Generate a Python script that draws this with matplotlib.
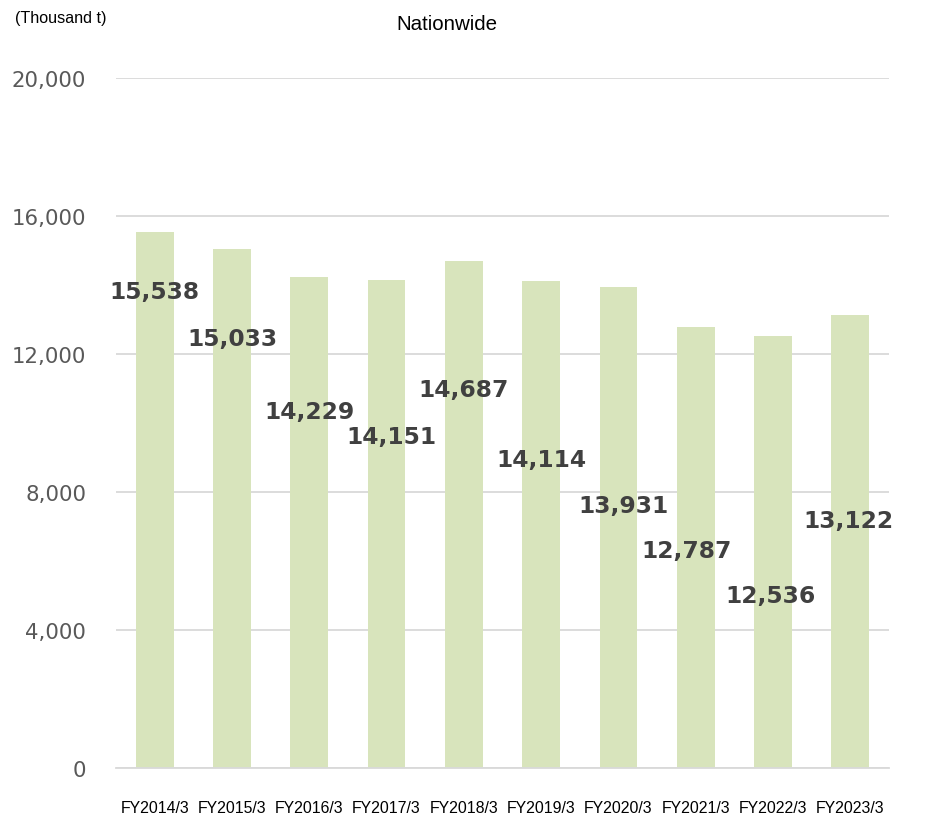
import matplotlib
matplotlib.use('Agg')
from matplotlib import pyplot as plt
from matplotlib.ticker import FuncFormatter

years = ['FY2014/3', 'FY2015/3', 'FY2016/3', 'FY2017/3', 'FY2018/3',
         'FY2019/3', 'FY2020/3', 'FY2021/3', 'FY2022/3', 'FY2023/3']
volumes = [15538, 15033, 14229, 14151, 14687, 14114, 13931, 12787, 12536, 13122]

# where the data labels sit (y in data units, x shift in category units)
LABEL_Y = [13800, 12435, 10320, 9620, 10960, 8930, 7620, 6290, 4990, 7160]
LABEL_DX = [0, 0, 0, 0.06, 0, 0, 0.06, -0.12, -0.03, -0.03]

BAR_COLOR = '#d8e4bc'
GRID_COLOR = '#d9d9d9'

fig = plt.figure(figsize=(9.26, 8.2), dpi=100)
ax = fig.add_axes([116 / 926, 1 - 769 / 820, (889 - 116) / 926, (769 - 79) / 820])

x = list(range(len(years)))
ax.bar(x, volumes, width=0.49, color=BAR_COLOR, zorder=2)

for i, v in enumerate(volumes):
    ax.text(i + LABEL_DX[i], LABEL_Y[i], f'{v:,}', ha='center', va='center',
            fontsize=16.8, fontweight='bold', color='#404040', zorder=3)

ax.set_xlim(-0.5, len(years) - 0.5)
ax.set_ylim(0, 20000)
ax.set_yticks(range(0, 20001, 4000))
ax.yaxis.set_major_formatter(FuncFormatter(lambda v, p: f'{int(v):,}'))
ax.grid(True, axis='y', color=GRID_COLOR, linewidth=1.3, zorder=0)

for s in ['top', 'right', 'left']:
    ax.spines[s].set_visible(False)
ax.spines['bottom'].set_color(GRID_COLOR)
ax.spines['bottom'].set_linewidth(1.3)

ax.tick_params(axis='y', length=0, pad=21.5, labelsize=15.3, labelcolor='#595959')
ax.tick_params(axis='x', length=0, pad=23)
ax.set_xticks(x)
ax.set_xticklabels(years, fontsize=11.4, family='Liberation Sans', color='#000000')

fig.text(447 / 926, 1 - 25 / 820, 'Nationwide', ha='center', va='center',
         fontsize=14.8, family='Liberation Sans')
fig.text(15 / 926, 1 - 19 / 820, '(Thousand t)', ha='left', va='center',
         fontsize=11.6, family='Liberation Sans')

plt.savefig('out.png', dpi=100)
